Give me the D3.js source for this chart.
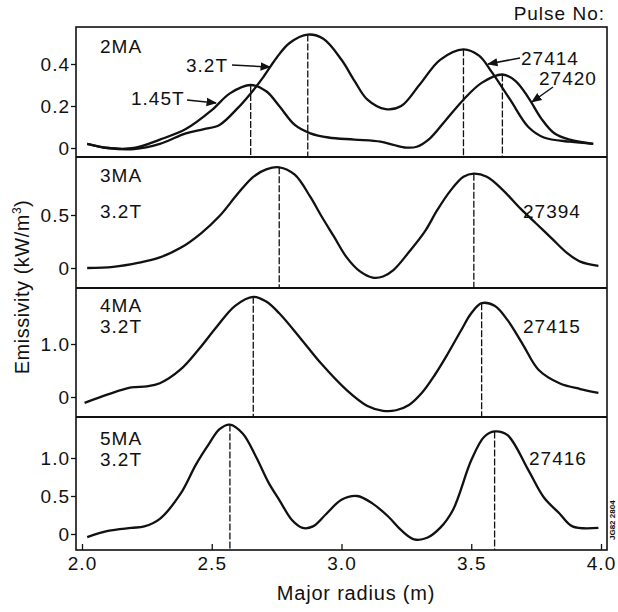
<!DOCTYPE html>
<html><head><meta charset="utf-8">
<script src="https://cdn.jsdelivr.net/npm/d3@7"></script>
<style>body{margin:0;background:#fff}svg{display:block}text{font-family:"Liberation Sans",Arial,Helvetica,sans-serif;fill:#111}</style>
</head><body><svg id="c" width="618" height="612"></svg>
<script>
// ---- data ----
const xTicks = [2.0, 2.5, 3.0, 3.5, 4.0];
const xTickLabels = ["2.0", "2.5", "3.0", "3.5", "4.0"];

// Panel 1: 2MA, pulse 27414 (3.2T) and 27420 (1.45T)
const r27414 = [2.02,2.1,2.2,2.3,2.4,2.47,2.53,2.6,2.65,2.7,2.75,2.8,2.87,2.93,3.0,3.05,3.1,3.17,3.23,3.3,3.38,3.47,3.53,3.58,3.65,3.72,3.78,3.88,3.97];
const e27414 = [0.02,0.0,-0.005,0.02,0.07,0.09,0.11,0.19,0.26,0.34,0.43,0.5,0.54,0.52,0.42,0.32,0.23,0.185,0.2,0.3,0.42,0.47,0.44,0.36,0.23,0.1,0.05,0.03,0.02];
const r27420 = [2.02,2.1,2.2,2.3,2.4,2.5,2.57,2.65,2.71,2.76,2.82,2.88,2.95,3.05,3.15,3.2,3.25,3.29,3.34,3.4,3.47,3.54,3.62,3.67,3.72,3.77,3.82,3.88,3.97];
const e27420 = [0.02,0.0,0.0,0.04,0.09,0.18,0.26,0.30,0.27,0.2,0.11,0.07,0.05,0.04,0.03,0.015,0.002,0.006,0.045,0.13,0.23,0.31,0.35,0.32,0.24,0.14,0.07,0.04,0.02];
// Panel 2: 3MA 3.2T, pulse 27394
const r27394 = [2.02,2.12,2.22,2.3,2.38,2.46,2.53,2.6,2.66,2.71,2.76,2.82,2.88,2.92,2.97,3.02,3.07,3.12,3.16,3.2,3.26,3.32,3.37,3.42,3.47,3.51,3.56,3.62,3.69,3.75,3.81,3.87,3.92,3.99];
const e27394 = [0.0,0.01,0.05,0.1,0.19,0.33,0.49,0.7,0.86,0.93,0.95,0.88,0.67,0.5,0.3,0.1,-0.03,-0.09,-0.08,-0.02,0.15,0.34,0.55,0.73,0.86,0.89,0.86,0.74,0.56,0.42,0.28,0.14,0.06,0.02];
// Panel 3: 4MA 3.2T, pulse 27415
const r27415 = [2.01,2.1,2.19,2.25,2.3,2.38,2.45,2.52,2.59,2.66,2.71,2.76,2.84,2.92,3.02,3.1,3.16,3.21,3.26,3.31,3.36,3.41,3.46,3.5,3.54,3.59,3.64,3.7,3.76,3.84,3.92,3.99];
const e27415 = [-0.11,0.05,0.18,0.2,0.26,0.52,0.9,1.33,1.72,1.89,1.8,1.58,1.12,0.64,0.13,-0.17,-0.26,-0.25,-0.15,0.08,0.42,0.82,1.25,1.58,1.77,1.72,1.45,0.98,0.51,0.26,0.15,0.08];
// Panel 4: 5MA 3.2T, pulse 27416
const r27416 = [2.02,2.1,2.19,2.24,2.3,2.38,2.44,2.49,2.53,2.57,2.62,2.67,2.72,2.76,2.81,2.85,2.89,2.94,3.0,3.06,3.12,3.18,3.23,3.28,3.33,3.38,3.43,3.5,3.55,3.59,3.64,3.72,3.78,3.84,3.89,3.99];
const e27416 = [-0.04,0.04,0.08,0.1,0.2,0.53,0.92,1.19,1.38,1.44,1.32,1.02,0.67,0.45,0.18,0.08,0.1,0.26,0.45,0.5,0.4,0.23,0.05,-0.07,-0.05,0.08,0.32,0.97,1.28,1.35,1.3,0.84,0.48,0.27,0.1,0.08];

// peak markers (dashed verticals)
const peaks1 = [[2.65,0.30],[2.87,0.54],[3.47,0.47],[3.62,0.35]];
const peaks2 = [[2.76,0.95],[3.51,0.89]];
const peaks3 = [[2.66,1.89],[3.54,1.77]];
const peaks4 = [[2.57,1.44],[3.59,1.35]];

const yTicks1 = [0, 0.2, 0.4], yTickLabels1 = ["0", "0.2", "0.4"];
const yTicks2 = [0, 0.5], yTickLabels2 = ["0", "0.5"];
const yTicks3 = [0, 1.0], yTickLabels3 = ["0", "1.0"];
const yTicks4 = [0, 0.5, 1.0], yTickLabels4 = ["0", "0.5", "1.0"];

const pulseLabels = ["27414", "27394", "27415", "27416"];

// ---- layout ----
const svg = d3.select("#c");
const L = 76, R = 607, TOP = 27, BOT = 550;
const FS = 19, LS = 1;
const x = d3.scaleLinear().domain([2.0, 4.0]).range([82, 601]);
const panels = [
  {top: 27, bottom: 157, y0: 148, yUnit: 210, ticks: yTicks1, labels: yTickLabels1, series: [[r27414, e27414], [r27420, e27420]], peaks: peaks1},
  {top: 157, bottom: 288, y0: 268, yUnit: 106, ticks: yTicks2, labels: yTickLabels2, series: [[r27394, e27394]], peaks: peaks2},
  {top: 288, bottom: 417, y0: 397, yUnit: 53, ticks: yTicks3, labels: yTickLabels3, series: [[r27415, e27415]], peaks: peaks3},
  {top: 417, bottom: BOT, y0: 534, yUnit: 76, ticks: yTicks4, labels: yTickLabels4, series: [[r27416, e27416]], peaks: peaks4}
];

const line = d3.line().curve(d3.curveCatmullRom.alpha(0.5));

panels.forEach((p, i) => {
  const y = d3.scaleLinear()
    .domain([(p.y0 - p.bottom) / p.yUnit, (p.y0 - p.top) / p.yUnit])
    .range([p.bottom, p.top]);
  const g = svg.append("g");
  const ax = d3.axisLeft(y).tickValues(p.ticks).tickFormat((d, k) => p.labels[k]).tickSize(5).tickPadding(1);
  const ag = g.append("g").attr("transform", `translate(${L},0)`).call(ax);
  ag.select(".domain").remove();
  ag.selectAll("line").attr("stroke", "#111").attr("stroke-width", 1.3);
  ag.selectAll("text").style("font-size", FS + "px").style("letter-spacing", LS + "px")
    .style("font-family", '"Liberation Sans",Arial,sans-serif').attr("fill", "#111");
  g.selectAll(".pk").data(p.peaks).join("line")
    .attr("x1", d => x(d[0])).attr("x2", d => x(d[0]))
    .attr("y1", d => y(d[1])).attr("y2", p.bottom)
    .attr("stroke", "#111").attr("stroke-width", 1.3).attr("stroke-dasharray", "7,2");
  p.series.forEach(s => {
    const pts = s[0].map((r, k) => [x(r), y(s[1][k])]);
    g.append("path").attr("d", line(pts)).attr("fill", "none").attr("stroke", "#111").attr("stroke-width", 2.3);
  });
});

// frame
svg.append("rect").attr("x", L).attr("y", TOP).attr("width", R - L).attr("height", BOT - TOP)
  .attr("fill", "none").attr("stroke", "#111").attr("stroke-width", 1.6);
[157, 288, 417].forEach(yy => svg.append("line").attr("x1", L).attr("x2", R).attr("y1", yy).attr("y2", yy).attr("stroke", "#111").attr("stroke-width", 2));

// x axis
const xa = d3.axisBottom(x).tickValues(xTicks).tickFormat((d, k) => xTickLabels[k]).tickSize(-6).tickPadding(7);
const xg = svg.append("g").attr("transform", `translate(0,${BOT})`).call(xa);
xg.select(".domain").remove();
xg.selectAll("line").attr("stroke", "#111").attr("stroke-width", 1.3);
xg.selectAll("text").style("font-size", FS + "px").style("letter-spacing", LS + "px")
  .style("font-family", '"Liberation Sans",Arial,sans-serif').attr("fill", "#111");

// texts
function t(txt, xx, yy, anchor, size, ls) {
  return svg.append("text").attr("x", xx).attr("y", yy).attr("text-anchor", anchor || "start")
    .style("font-size", (size || FS) + "px").style("letter-spacing", (ls === undefined ? LS : ls) + "px").text(txt);
}
t("Pulse No:", 605, 20, "end", FS, 1);
t("2MA", 100, 53);
t("3MA", 100, 182); t("3.2T", 100, 218);
t("4MA", 100, 312); t("3.2T", 100, 333);
t("5MA", 100, 445); t("3.2T", 100, 466);
t("3.2T", 186, 72);
t("1.45T", 131, 105);
t("27414", 521, 65);
t("27420", 539, 85);
t(pulseLabels[1], 523, 218);
t(pulseLabels[2], 523, 333);
t(pulseLabels[3], 529, 465);

// arrows
const defs = svg.append("defs");
defs.append("marker").attr("id", "ah").attr("viewBox", "0 0 10 10").attr("refX", 9).attr("refY", 5)
  .attr("markerWidth", 7).attr("markerHeight", 7).attr("orient", "auto")
  .append("path").attr("d", "M0,1 L10,5 L0,9 Z").attr("fill", "#111");
function arrow(x1, y1, x2, y2) {
  svg.append("line").attr("x1", x1).attr("y1", y1).attr("x2", x2).attr("y2", y2)
    .attr("stroke", "#111").attr("stroke-width", 1.5).attr("marker-end", "url(#ah)");
}
arrow(232, 65, 270, 67);
arrow(187, 100, 216, 103);
arrow(520, 58, 488, 64);
arrow(553, 87, 532, 102);

// axis titles
svg.append("text").attr("transform", "translate(29,287) rotate(-90)").attr("text-anchor", "middle")
  .style("font-size", "20px").style("letter-spacing", "0.5px")
  .html('Emissivity (kW/m<tspan dy="-8" style="font-size:12px">3</tspan><tspan dy="8">)</tspan>');
t("Major radius (m)", 356, 600, "middle", 20, 0.8);
svg.append("text").attr("transform", "translate(615,540) rotate(-90)").style("font-size", "8px").style("font-weight", "bold").text("JG82 2804");
</script></body></html>
